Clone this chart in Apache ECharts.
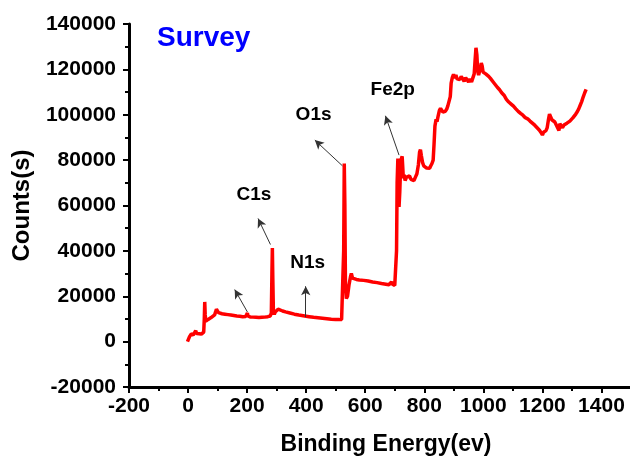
<!DOCTYPE html>
<html>
<head>
<meta charset="utf-8">
<script src="https://cdn.jsdelivr.net/npm/echarts@6/dist/echarts.min.js"></script>
<style>
  html, body { margin: 0; padding: 0; background: #fff; }
  #chart { width: 630px; height: 456px; }
</style>
</head>
<body>
<div id="chart"></div>
<script>
// XPS survey spectrum: binding energy (eV) vs counts
const energy = [
  -2, 2, 5, 8, 11, 14, 18, 22, 26, 29, 33, 38, 45, 50, 53, 55, 56.5, 58, 60, 63,
  68, 73, 78, 84, 90, 93, 96, 99, 103, 108, 115, 125, 135, 145, 155, 165, 175, 185, 195, 199,
  201, 203, 210, 220, 230, 240, 250, 260, 270, 278, 282, 284, 285.5, 287, 289, 292, 296, 300, 305, 310,
  320, 330, 345, 360, 375, 390, 400, 410, 425, 440, 455, 470, 485, 500, 512, 520, 524, 527, 529, 531,
  533, 536, 540, 545, 550, 553, 557, 562, 570, 580, 595, 610, 625, 640, 655, 670, 680, 686, 689, 692,
  700, 704, 706, 708, 710.5, 712, 714.5, 717, 720, 722, 725, 727, 729, 732, 735, 740, 745, 750, 755, 760,
  765, 770, 775, 780, 784, 787, 790, 794, 798, 803, 808, 813, 818, 822, 826, 830, 833, 836, 840, 843,
  847, 851, 855, 859, 863, 867, 871, 876, 880, 884, 888, 891, 895, 899, 903, 907, 911, 915, 920, 925,
  930, 935, 940, 945, 950, 955, 960, 965, 969, 972, 975, 978, 981, 984, 987, 990, 993, 996, 999, 1003,
  1008, 1013, 1018, 1024, 1030, 1036, 1042, 1048, 1055, 1062, 1070, 1078, 1086, 1094, 1102, 1110, 1118, 1126, 1134, 1142,
  1150, 1158, 1166, 1174, 1182, 1190, 1196, 1200, 1204, 1208, 1212, 1216, 1220, 1224, 1228, 1232, 1237, 1242, 1247, 1252,
  1256, 1259, 1263, 1268, 1273, 1278, 1283, 1288, 1293, 1298, 1303, 1308, 1313, 1318, 1323, 1328, 1333, 1338, 1343, 1348
];
const counts = [
  0, 800, 2200, 1800, 3400, 2600, 3000, 2700, 4800, 3600, 3300, 3500, 3300, 3600, 4200, 10000, 17500, 12000, 9000, 9200,
  9800, 10200, 10600, 11300, 11800, 13000, 14300, 13600, 12800, 12500, 12300, 12100, 11900, 11700, 11500, 11300, 11200, 11000, 11100, 11700,
  12600, 11300, 10900, 10800, 10700, 10600, 10700, 10800, 11000, 11300, 12500, 30000, 41300, 28000, 13000, 12000, 13200, 14000, 14300, 14000,
  13500, 13100, 12600, 12100, 11700, 11400, 11200, 11000, 10700, 10500, 10300, 10100, 9900, 9800, 9700, 9800, 10500, 40000, 78500, 60000,
  25000, 19000, 20000, 25000, 28500, 30000, 28000, 27200, 27400, 27200, 27000, 26700, 26300, 26000, 25600, 25300, 25100, 25500, 26300, 25300,
  24800, 24600, 40000, 70000, 80700, 68000, 59400, 66000, 78000, 80500, 81700, 77000, 72000, 73500, 71000, 72500, 72000, 73000, 71500, 71800,
  71000, 72500, 74000, 78000, 83500, 84600, 82000, 79000, 77500, 77800, 76500, 76800, 76400, 77500, 78500, 80000, 87000, 95000, 98000, 97000,
  99500, 101800, 102800, 103500, 101200, 100800, 101500, 102500, 104000, 104800, 108000, 114000, 116500, 117800, 116200, 117500, 115800, 116400, 115500, 116800,
  115900, 114700, 116300, 115400, 114400, 115800, 114500, 113900, 118000, 124000, 129500, 126500, 119000, 117500, 119000, 120500, 122800, 121500, 118800, 119200,
  118000, 117300, 116900, 116000, 115200, 114000, 113300, 112000, 111000, 109700, 108600, 106800, 105600, 104700, 103800, 102600, 101500, 100600, 99800, 98700,
  98200, 97200, 96300, 95400, 94300, 93200, 92000, 91100, 92300, 91500, 93000, 94200, 97500, 100300, 99500, 97800, 97000, 96800, 95500, 95200,
  93000, 96000, 95200, 94300, 95500, 95600, 96300, 96000, 97200, 97800, 98600, 99300, 100300, 101300, 102600, 104200, 105800, 107800, 109600, 111200
];

// peak annotations: label text, label anchor, arrow tail and arrow tip (data units)
const peakNames = ['C1s', 'N1s', 'O1s', 'Fe2p', ''];
const labelAt = [[223, 64600], [405, 34550], [425, 99840], [693, 110870], null];
const arrowFrom = [[279, 42800], [398.5, 10850], [522.8, 77480], [714.5, 82200], [201, 13060]];
const arrowTo = [[237, 54270], [398.5, 24400], [429.4, 88820], [668.4, 99540], [158, 22940]];

const xTicks = { min: -200, max: 1500, interval: 200 };
const yTicks = { min: -20000, max: 140000, interval: 20000 };

const FONT = "'Liberation Sans', Arial, sans-serif";

const spectrum = energy.map((e, i) => [e, counts[i]]);

const axisCommon = {
  axisLine: { show: true, onZero: false, lineStyle: { color: '#000', width: 3 } },
  axisTick: { show: true, inside: false, length: 6, lineStyle: { color: '#000', width: 2 } },
  minorTick: { show: true, splitNumber: 2, length: 4, lineStyle: { color: '#000', width: 2 } },
  splitLine: { show: false },
  axisLabel: {
    color: '#000', fontFamily: FONT, fontWeight: 'bold', fontSize: 21,
    formatter: v => String(v)
  }
};

const chart = echarts.init(document.getElementById('chart'), null, { renderer: 'canvas' });
chart.setOption({
  animation: false,
  backgroundColor: '#fff',
  title: {
    text: 'Survey',
    left: 157, top: 24, padding: 0,
    textStyle: { color: '#0000ff', fontFamily: FONT, fontWeight: 'bold', fontSize: 28 }
  },
  grid: { left: 129, right: -1, top: 24, bottom: 69, containLabel: false, outerBoundsMode: 'none' },
  xAxis: Object.assign({}, axisCommon, {
    type: 'value',
    min: xTicks.min, max: xTicks.max, interval: xTicks.interval,
    name: 'Binding Energy(ev)',
    nameLocation: 'middle', nameGap: 46,
    nameTextStyle: { color: '#000', fontFamily: FONT, fontWeight: 'bold', fontSize: 23, padding: [0, 0, 0, 12] },
    axisLabel: Object.assign({}, axisCommon.axisLabel, { margin: 9, showMaxLabel: false })
  }),
  yAxis: Object.assign({}, axisCommon, {
    type: 'value',
    min: yTicks.min, max: yTicks.max, interval: yTicks.interval,
    name: 'Counts(s)',
    nameLocation: 'middle', nameGap: 95,
    nameTextStyle: { color: '#000', fontFamily: FONT, fontWeight: 'bold', fontSize: 24 },
    axisLabel: Object.assign({}, axisCommon.axisLabel, { margin: 13 })
  }),
  series: [{
    type: 'line',
    data: spectrum,
    showSymbol: false,
    symbol: 'none',
    lineStyle: { color: '#ff0000', width: 3.5 },
    itemStyle: { color: '#ff0000' },
    z: 3,
    markLine: {
      silent: true,
      symbol: ['none', 'arrow'],
      symbolSize: [7, 9],
      label: { show: false },
      lineStyle: { color: '#333', width: 1, type: 'solid' },
      data: arrowFrom.map((p, i) => [{ coord: p }, { coord: arrowTo[i] }])
    },
    markPoint: {
      silent: true,
      symbol: 'circle',
      symbolSize: 0,
      label: {
        show: true, position: 'inside', formatter: '{b}',
        color: '#000', fontFamily: FONT, fontWeight: 'bold', fontSize: 19
      },
      data: peakNames
        .map((n, i) => ({ name: n, coord: labelAt[i] }))
        .filter(d => d.name && d.coord)
    }
  }]
});
</script>
</body>
</html>
